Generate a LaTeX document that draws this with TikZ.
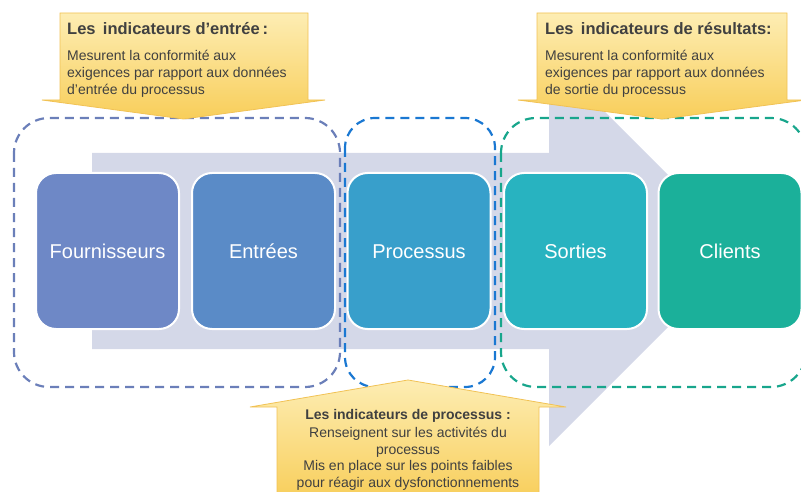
\documentclass[tikz,border=0pt]{standalone}
\usepackage{fontspec}
\setmainfont{Liberation Sans}
\usetikzlibrary{arrows.meta}

\definecolor{flux}{HTML}{D4D8E8}
\definecolor{cFourn}{HTML}{6E88C6}
\definecolor{cEntr}{HTML}{5A8BC7}
\definecolor{cProc}{HTML}{389FCB}
\definecolor{cSort}{HTML}{28B3C0}
\definecolor{cCli}{HTML}{1BB09A}
\definecolor{gEntr}{HTML}{6B7FB9}
\definecolor{gProc}{HTML}{1A78D2}
\definecolor{gRes}{HTML}{18A68C}
\definecolor{jauneHaut}{HTML}{FDEDB3}
\definecolor{jauneBas}{HTML}{F8CE5A}
\definecolor{jauneBord}{HTML}{F1C255}
\definecolor{texte}{HTML}{404040}

\tikzset{
  etape/.style={shape=rectangle,rounded corners=20pt,draw=white,line width=2pt,
    minimum width=143pt,minimum height=156pt,text=white,text height=14pt,text depth=0pt,
    font=\fontsize{20}{24}\selectfont},
  groupe/.style={line width=2.2pt,dash pattern=on 9pt off 6pt,rounded corners=35pt},
  bulle/.style={top color=jauneHaut,bottom color=jauneBas,draw=jauneBord,line width=0.8pt},
  titre/.style={text=texte,inner sep=0pt,font=\bfseries\fontsize{16.5}{19}\selectfont},
  corps/.style={text=texte,inner sep=0pt,font=\fontsize{14}{17}\selectfont}
}

\begin{document}
\begin{tikzpicture}[x=1pt,y=-1pt]
    \useasboundingbox (0,0) rectangle (801,492);
    % fleche de fond
    \fill[flux] (92,153) -- (549,153) -- (549,56) -- (744,251) -- (549,446)
        -- (549,349) -- (92,349) -- cycle;
    % etapes
    \node[etape,fill=cFourn] (fourn) at (107.5,251) {Fournisseurs};
    \node[etape,fill=cEntr] (entrees) at (263.5,251) {Entrées};
    \node[etape,fill=cProc] (proc) at (419,251) {Processus};
    \node[etape,fill=cSort] (sorties) at (575.5,251) {Sorties};
    \node[etape,fill=cCli] (clients) at (730,251) {Clients};
    % groupes
    \draw[groupe,draw=gEntr] (14,118) rectangle (340,387);
    \draw[groupe,draw=gProc,rounded corners=30pt] (345,118) rectangle (495,387);
    \draw[groupe,draw=gRes] (501,118) rectangle (806,387);
    % bulle entree
    \path[bulle] (60,13) -- (308,13) -- (308,100) -- (325,100) -- (183.5,119)
        -- (42,100) -- (60,100) -- cycle;
    \node[titre,anchor=west] (titreEntr) at (67,29) {Les\, indicateurs d’entrée\,:};
    \node[corps,anchor=north west,align=left] (texteEntr) at (67,50)
        {Mesurent la conformité aux\\exigences par rapport aux données\\d’entrée du processus};
    % bulle resultats
    \path[bulle] (537,13) -- (787,13) -- (787,100) -- (806,100) -- (662,119)
        -- (518,100) -- (537,100) -- cycle;
    \node[titre,anchor=west] (titreRes) at (545,29) {Les\, indicateurs de résultats:};
    \node[corps,anchor=north west,align=left] (texteRes) at (545,50)
        {Mesurent la conformité aux\\exigences par rapport aux données\\de sortie du processus};
    % bulle processus
    \path[bulle] (277,500) -- (277,407) -- (250,407) -- (408,380) -- (566,407)
        -- (539,407) -- (539,500) -- cycle;
    \node[titre,font=\bfseries\fontsize{14}{17}\selectfont] (titreProc) at (408,416)
        {Les indicateurs de processus :};
    \node[corps,anchor=north,align=center,font=\fontsize{14}{16.5}\selectfont] (texteProc) at (408,427)
        {Renseignent sur les activités du\\processus\\Mis en place sur les points faibles\\pour réagir aux dysfonctionnements};
\end{tikzpicture}
\end{document}
